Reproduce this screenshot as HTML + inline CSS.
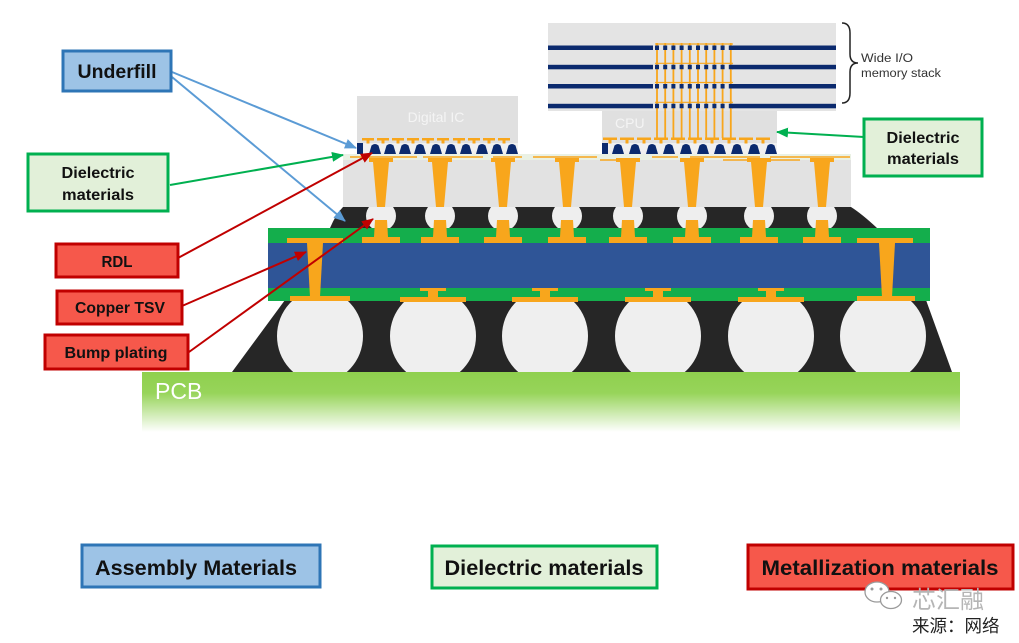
<!DOCTYPE html>
<html><head><meta charset="utf-8"><style>
html,body{margin:0;padding:0;background:#fff;}
svg{display:block;}
text{font-family:"Liberation Sans","Noto Sans CJK SC",sans-serif;}
</style></head><body>
<svg width="1019" height="643" viewBox="0 0 1019 643" xmlns="http://www.w3.org/2000/svg">
<defs>
<linearGradient id="pcb" x1="0" y1="0" x2="0" y2="1">
<stop offset="0" stop-color="#8fd04e"/><stop offset="0.35" stop-color="#97d45a"/><stop offset="1" stop-color="#ffffff"/>
</linearGradient>
<marker id="mb" markerWidth="12" markerHeight="10" refX="11" refY="5" orient="auto" markerUnits="userSpaceOnUse"><path d="M0,0 L12,5 L0,10 Z" fill="#5b9bd5"/></marker>
<marker id="mg" markerWidth="12" markerHeight="10" refX="11" refY="5" orient="auto" markerUnits="userSpaceOnUse"><path d="M0,0 L12,5 L0,10 Z" fill="#00b050"/></marker>
<marker id="mr" markerWidth="12" markerHeight="10" refX="11" refY="5" orient="auto" markerUnits="userSpaceOnUse"><path d="M0,0 L12,5 L0,10 Z" fill="#c00000"/></marker>
<clipPath id="lowclip"><rect x="200" y="301" width="800" height="71"/></clipPath>
<clipPath id="upclip"><rect x="300" y="205" width="600" height="23"/></clipPath>
</defs>

<!-- PCB -->
<rect x="142" y="372" width="818" height="60" fill="url(#pcb)"/>
<text x="155" y="399" font-size="23" fill="#ffffff">PCB</text>

<!-- lower underfill + balls -->
<polygon points="285,300 926,300 952,372 232,372" fill="#262626"/>
<g clip-path="url(#lowclip)" fill="#efefef">
<ellipse cx="320" cy="336" rx="43" ry="46"/>
<ellipse cx="433" cy="336" rx="43" ry="46"/>
<ellipse cx="545" cy="336" rx="43" ry="46"/>
<ellipse cx="658" cy="336" rx="43" ry="46"/>
<ellipse cx="771" cy="336" rx="43" ry="46"/>
<ellipse cx="883" cy="336" rx="43" ry="46"/>
</g>

<!-- interposer -->
<rect x="268" y="228" width="662" height="73" fill="#14ae4c"/>
<rect x="268" y="243" width="662" height="45" fill="#2f5597"/>

<!-- interposer TSVs -->
<g fill="#f8a61c">
<rect x="287" y="238" width="56" height="5"/>
<polygon points="307,243 323,243 320,297 310,297"/>
<rect x="290" y="296" width="60" height="5"/>
<rect x="857" y="238" width="56" height="5"/>
<polygon points="879,243 895,243 892,297 882,297"/>
<rect x="857" y="296" width="58" height="5"/>
<!-- bottom pads -->
<rect x="420" y="288" width="26" height="3"/><rect x="428" y="290" width="10" height="8"/><rect x="400" y="297" width="66" height="5"/>
<rect x="532" y="288" width="26" height="3"/><rect x="540" y="290" width="10" height="8"/><rect x="512" y="297" width="66" height="5"/>
<rect x="645" y="288" width="26" height="3"/><rect x="653" y="290" width="10" height="8"/><rect x="625" y="297" width="66" height="5"/>
<rect x="758" y="288" width="26" height="3"/><rect x="766" y="290" width="10" height="8"/><rect x="738" y="297" width="66" height="5"/>
</g>

<!-- upper underfill band -->
<path d="M343,207 L851,207 Q862,214 877,228 L330,228 Q336,214 343,207 Z" fill="#262626"/>
<g clip-path="url(#upclip)" fill="#eeeeee">
<circle cx="381" cy="216" r="15"/><circle cx="440" cy="216" r="15"/><circle cx="503" cy="216" r="15"/><circle cx="567" cy="216" r="15"/>
<circle cx="628" cy="216" r="15"/><circle cx="692" cy="216" r="15"/><circle cx="759" cy="216" r="15"/><circle cx="822" cy="216" r="15"/>
</g>

<!-- mold -->
<rect x="343" y="155" width="508" height="52" fill="#e2e2e2"/>
<rect x="343" y="154" width="508" height="6" fill="#eaf1e4"/>
<g stroke="#f8a61c" stroke-width="1.6">
<line x1="350" y1="157" x2="417" y2="157"/><line x1="423" y1="157" x2="483" y2="157"/><line x1="493" y1="157" x2="522" y2="157"/>
<line x1="533" y1="157" x2="597" y2="157"/><line x1="652" y1="157" x2="678" y2="157"/><line x1="690" y1="157" x2="760" y2="157"/>
<line x1="723" y1="160" x2="800" y2="160"/><line x1="770" y1="157" x2="850" y2="157"/><line x1="600" y1="160" x2="640" y2="160"/>
</g>

<!-- pillars -->
<g fill="#f8a61c">
<g transform="translate(381,0)"><rect x="-12" y="158" width="24" height="4"/><polygon points="-8,162 8,162 4,207 -4,207"/><polygon points="-6,220 6,220 7,237 -7,237"/><rect x="-19" y="237" width="38" height="6"/></g>
<g transform="translate(440,0)"><rect x="-12" y="158" width="24" height="4"/><polygon points="-8,162 8,162 4,207 -4,207"/><polygon points="-6,220 6,220 7,237 -7,237"/><rect x="-19" y="237" width="38" height="6"/></g>
<g transform="translate(503,0)"><rect x="-12" y="158" width="24" height="4"/><polygon points="-8,162 8,162 4,207 -4,207"/><polygon points="-6,220 6,220 7,237 -7,237"/><rect x="-19" y="237" width="38" height="6"/></g>
<g transform="translate(567,0)"><rect x="-12" y="158" width="24" height="4"/><polygon points="-8,162 8,162 4,207 -4,207"/><polygon points="-6,220 6,220 7,237 -7,237"/><rect x="-19" y="237" width="38" height="6"/></g>
<g transform="translate(628,0)"><rect x="-12" y="158" width="24" height="4"/><polygon points="-8,162 8,162 4,207 -4,207"/><polygon points="-6,220 6,220 7,237 -7,237"/><rect x="-19" y="237" width="38" height="6"/></g>
<g transform="translate(692,0)"><rect x="-12" y="158" width="24" height="4"/><polygon points="-8,162 8,162 4,207 -4,207"/><polygon points="-6,220 6,220 7,237 -7,237"/><rect x="-19" y="237" width="38" height="6"/></g>
<g transform="translate(759,0)"><rect x="-12" y="158" width="24" height="4"/><polygon points="-8,162 8,162 4,207 -4,207"/><polygon points="-6,220 6,220 7,237 -7,237"/><rect x="-19" y="237" width="38" height="6"/></g>
<g transform="translate(822,0)"><rect x="-12" y="158" width="24" height="4"/><polygon points="-8,162 8,162 4,207 -4,207"/><polygon points="-6,220 6,220 7,237 -7,237"/><rect x="-19" y="237" width="38" height="6"/></g>
</g>

<!-- Digital IC -->
<rect x="357" y="96" width="161" height="47" fill="#e0e0e0"/>
<text x="436" y="122" font-size="14" fill="#f4f4f4" text-anchor="middle">Digital IC</text>
<rect x="357" y="143" width="161" height="11" fill="#f0f0f0"/>
<rect x="357" y="143" width="6" height="11" fill="#0b2a6e"/>
<path fill="#0b2a6e" d="M369 154L371.5 145.5Q375 142.5 378.5 145.5L381 154Z M384 154L386.5 145.5Q390 142.5 393.5 145.5L396 154Z M399 154L401.5 145.5Q405 142.5 408.5 145.5L411 154Z M414 154L416.5 145.5Q420 142.5 423.5 145.5L426 154Z M430 154L432.5 145.5Q436 142.5 439.5 145.5L442 154Z M445 154L447.5 145.5Q451 142.5 454.5 145.5L457 154Z M460 154L462.5 145.5Q466 142.5 469.5 145.5L472 154Z M476 154L478.5 145.5Q482 142.5 485.5 145.5L488 154Z M491 154L493.5 145.5Q497 142.5 500.5 145.5L503 154Z M506 154L508.5 145.5Q512 142.5 515.5 145.5L518 154Z"/>
<g fill="#f8a61c">
<rect x="362" y="138" width="12" height="2.5"/><rect x="366.5" y="140" width="3" height="3.5"/>
<rect x="377" y="138" width="12" height="2.5"/><rect x="381.5" y="140" width="3" height="3.5"/>
<rect x="392" y="138" width="12" height="2.5"/><rect x="396.5" y="140" width="3" height="3.5"/>
<rect x="407" y="138" width="12" height="2.5"/><rect x="411.5" y="140" width="3" height="3.5"/>
<rect x="422" y="138" width="12" height="2.5"/><rect x="426.5" y="140" width="3" height="3.5"/>
<rect x="437" y="138" width="12" height="2.5"/><rect x="441.5" y="140" width="3" height="3.5"/>
<rect x="453" y="138" width="12" height="2.5"/><rect x="457.5" y="140" width="3" height="3.5"/>
<rect x="468" y="138" width="12" height="2.5"/><rect x="472.5" y="140" width="3" height="3.5"/>
<rect x="483" y="138" width="12" height="2.5"/><rect x="487.5" y="140" width="3" height="3.5"/>
<rect x="498" y="138" width="12" height="2.5"/><rect x="502.5" y="140" width="3" height="3.5"/>
</g>

<!-- CPU -->
<rect x="602" y="110" width="175" height="33" fill="#e0e0e0"/>
<text x="615" y="128" font-size="14" fill="#f4f4f4">CPU</text>
<rect x="602" y="143" width="175" height="11" fill="#f0f0f0"/>
<rect x="602" y="143" width="6" height="11" fill="#0b2a6e"/>
<path fill="#0b2a6e" d="M612 154L614.5 145.5Q618 142.5 621.5 145.5L624 154Z M629 154L631.5 145.5Q635 142.5 638.5 145.5L641 154Z M646 154L648.5 145.5Q652 142.5 655.5 145.5L658 154Z M663 154L665.5 145.5Q669 142.5 672.5 145.5L675 154Z M680 154L682.5 145.5Q686 142.5 689.5 145.5L692 154Z M697 154L699.5 145.5Q703 142.5 706.5 145.5L709 154Z M714 154L716.5 145.5Q720 142.5 723.5 145.5L726 154Z M731 154L733.5 145.5Q737 142.5 740.5 145.5L743 154Z M748 154L750.5 145.5Q754 142.5 757.5 145.5L760 154Z M765 154L767.5 145.5Q771 142.5 774.5 145.5L777 154Z"/>
<g fill="#f8a61c">
<rect x="603" y="137.5" width="14" height="2.5"/><rect x="608.5" y="140" width="3" height="3.5"/>
<rect x="620" y="137.5" width="14" height="2.5"/><rect x="625.5" y="140" width="3" height="3.5"/>
<rect x="637" y="137.5" width="14" height="2.5"/><rect x="642.5" y="140" width="3" height="3.5"/>
<rect x="654" y="137.5" width="14" height="2.5"/><rect x="659.5" y="140" width="3" height="3.5"/>
<rect x="671" y="137.5" width="14" height="2.5"/><rect x="676.5" y="140" width="3" height="3.5"/>
<rect x="688" y="137.5" width="14" height="2.5"/><rect x="693.5" y="140" width="3" height="3.5"/>
<rect x="705" y="137.5" width="14" height="2.5"/><rect x="710.5" y="140" width="3" height="3.5"/>
<rect x="722" y="137.5" width="14" height="2.5"/><rect x="727.5" y="140" width="3" height="3.5"/>
<rect x="739" y="137.5" width="14" height="2.5"/><rect x="744.5" y="140" width="3" height="3.5"/>
<rect x="756" y="137.5" width="14" height="2.5"/><rect x="761.5" y="140" width="3" height="3.5"/>
</g>

<!-- Memory stack -->
<rect x="548" y="23" width="288" height="88" fill="#e4e4e4"/>
<g fill="#0b2a6e">
<rect x="548" y="45.5" width="105" height="4.5"/><rect x="732" y="45.5" width="104" height="4.5"/>
<rect x="548" y="64.8" width="105" height="4.5"/><rect x="732" y="64.8" width="104" height="4.5"/>
<rect x="548" y="84" width="105" height="4.5"/><rect x="732" y="84" width="104" height="4.5"/>
<rect x="548" y="103.8" width="105" height="4.5"/><rect x="732" y="103.8" width="104" height="4.5"/>
</g>
<g stroke="#f8a61c" stroke-width="1.8">
<line x1="657" y1="43" x2="657" y2="138"/><line x1="665.2" y1="43" x2="665.2" y2="138"/><line x1="673.4" y1="43" x2="673.4" y2="138"/>
<line x1="681.6" y1="43" x2="681.6" y2="138"/><line x1="689.8" y1="43" x2="689.8" y2="138"/><line x1="698" y1="43" x2="698" y2="138"/>
<line x1="706.2" y1="43" x2="706.2" y2="138"/><line x1="714.4" y1="43" x2="714.4" y2="138"/><line x1="722.6" y1="43" x2="722.6" y2="138"/>
<line x1="730.8" y1="43" x2="730.8" y2="138"/>
<line x1="655" y1="44" x2="733" y2="44" stroke-width="1.2"/><line x1="655" y1="63.3" x2="733" y2="63.3" stroke-width="1.2"/>
<line x1="655" y1="82.5" x2="733" y2="82.5" stroke-width="1.2"/><line x1="655" y1="102.3" x2="733" y2="102.3" stroke-width="1.2"/>
</g>
<g stroke="#0b2a6e" stroke-width="4.5" stroke-dasharray="4 4.2">
<line x1="655" y1="47.8" x2="734" y2="47.8"/><line x1="655" y1="67" x2="734" y2="67"/>
<line x1="655" y1="86.3" x2="734" y2="86.3"/><line x1="655" y1="106" x2="734" y2="106"/>
</g>

<!-- brace + label -->
<path d="M842,23 Q850,23 850,33 L850,54 Q850,63 858,63 Q850,63 850,72 L850,93 Q850,103 842,103" fill="none" stroke="#222" stroke-width="1.5"/>
<text x="861" y="62" font-size="11.5" fill="#333" textLength="52" lengthAdjust="spacingAndGlyphs">Wide I/O</text>
<text x="861" y="77" font-size="11.5" fill="#333" textLength="80" lengthAdjust="spacingAndGlyphs">memory stack</text>

<!-- arrows -->
<g stroke-width="2" fill="none">
<line x1="172" y1="72" x2="356" y2="148" stroke="#5b9bd5" marker-end="url(#mb)"/>
<line x1="172" y1="77" x2="345" y2="221" stroke="#5b9bd5" marker-end="url(#mb)"/>
<line x1="170" y1="185" x2="343" y2="155" stroke="#00b050" marker-end="url(#mg)"/>
<line x1="864" y1="137" x2="777" y2="132" stroke="#00b050" marker-end="url(#mg)"/>
<line x1="178" y1="258" x2="372" y2="153" stroke="#c00000" marker-end="url(#mr)"/>
<line x1="182" y1="306" x2="306" y2="252" stroke="#c00000" marker-end="url(#mr)"/>
<line x1="189" y1="352" x2="373" y2="219" stroke="#c00000" marker-end="url(#mr)"/>
</g>

<!-- label boxes -->
<g font-weight="bold" fill="#111" text-anchor="middle">
<rect x="63" y="51" width="108" height="40" fill="#9dc3e6" stroke="#2e75b6" stroke-width="3"/>
<text x="117" y="78" font-size="19" textLength="79" lengthAdjust="spacingAndGlyphs">Underfill</text>

<rect x="28" y="154" width="140" height="57" fill="#e2f0d9" stroke="#00b050" stroke-width="3"/>
<text x="98" y="178" font-size="16" textLength="73" lengthAdjust="spacingAndGlyphs">Dielectric</text>
<text x="98" y="200" font-size="16" textLength="72" lengthAdjust="spacingAndGlyphs">materials</text>

<rect x="56" y="244" width="122" height="33" fill="#f6584b" stroke="#c00000" stroke-width="3"/>
<text x="117" y="267" font-size="16" textLength="31" lengthAdjust="spacingAndGlyphs">RDL</text>

<rect x="57" y="291" width="125" height="33" fill="#f6584b" stroke="#c00000" stroke-width="3"/>
<text x="120" y="313" font-size="16" textLength="90" lengthAdjust="spacingAndGlyphs">Copper TSV</text>

<rect x="45" y="335" width="143" height="34" fill="#f6584b" stroke="#c00000" stroke-width="3"/>
<text x="116" y="358" font-size="16" textLength="103" lengthAdjust="spacingAndGlyphs">Bump plating</text>

<rect x="864" y="119" width="118" height="57" fill="#e2f0d9" stroke="#00b050" stroke-width="3"/>
<text x="923" y="143" font-size="16" textLength="73" lengthAdjust="spacingAndGlyphs">Dielectric</text>
<text x="923" y="164" font-size="16" textLength="72" lengthAdjust="spacingAndGlyphs">materials</text>

<rect x="82" y="545" width="238" height="42" fill="#9dc3e6" stroke="#2e75b6" stroke-width="3"/>
<text x="196" y="575" font-size="21" textLength="202" lengthAdjust="spacingAndGlyphs">Assembly Materials</text>

<rect x="432" y="546" width="225" height="42" fill="#e2f0d9" stroke="#00b050" stroke-width="3"/>
<text x="544" y="575" font-size="21" textLength="199" lengthAdjust="spacingAndGlyphs">Dielectric materials</text>

<rect x="748" y="545" width="265" height="44" fill="#f6584b" stroke="#c00000" stroke-width="3"/>
<text x="880" y="575" font-size="21" textLength="237" lengthAdjust="spacingAndGlyphs">Metallization materials</text>
</g>

<!-- watermark -->
<g stroke="#9a9a9a" stroke-width="1.3" fill="#ffffff">
<ellipse cx="877" cy="592" rx="12" ry="10"/>
<ellipse cx="891" cy="600" rx="10.5" ry="8.5"/>
</g>
<g fill="#9a9a9a"><circle cx="872" cy="589" r="1.5"/><circle cx="881" cy="589" r="1.5"/><circle cx="887" cy="598" r="1.2"/><circle cx="895" cy="598" r="1.2"/></g>
<text x="912" y="608" font-size="24" fill="#b5b5b5" style="font-family:'Liberation Sans','Noto Sans CJK SC',sans-serif">芯汇融</text>
<text x="912" y="632" font-size="17.5" fill="#222" style="font-family:'Liberation Sans','Noto Sans CJK SC',sans-serif">来源：网络</text>
</svg>
</body></html>
